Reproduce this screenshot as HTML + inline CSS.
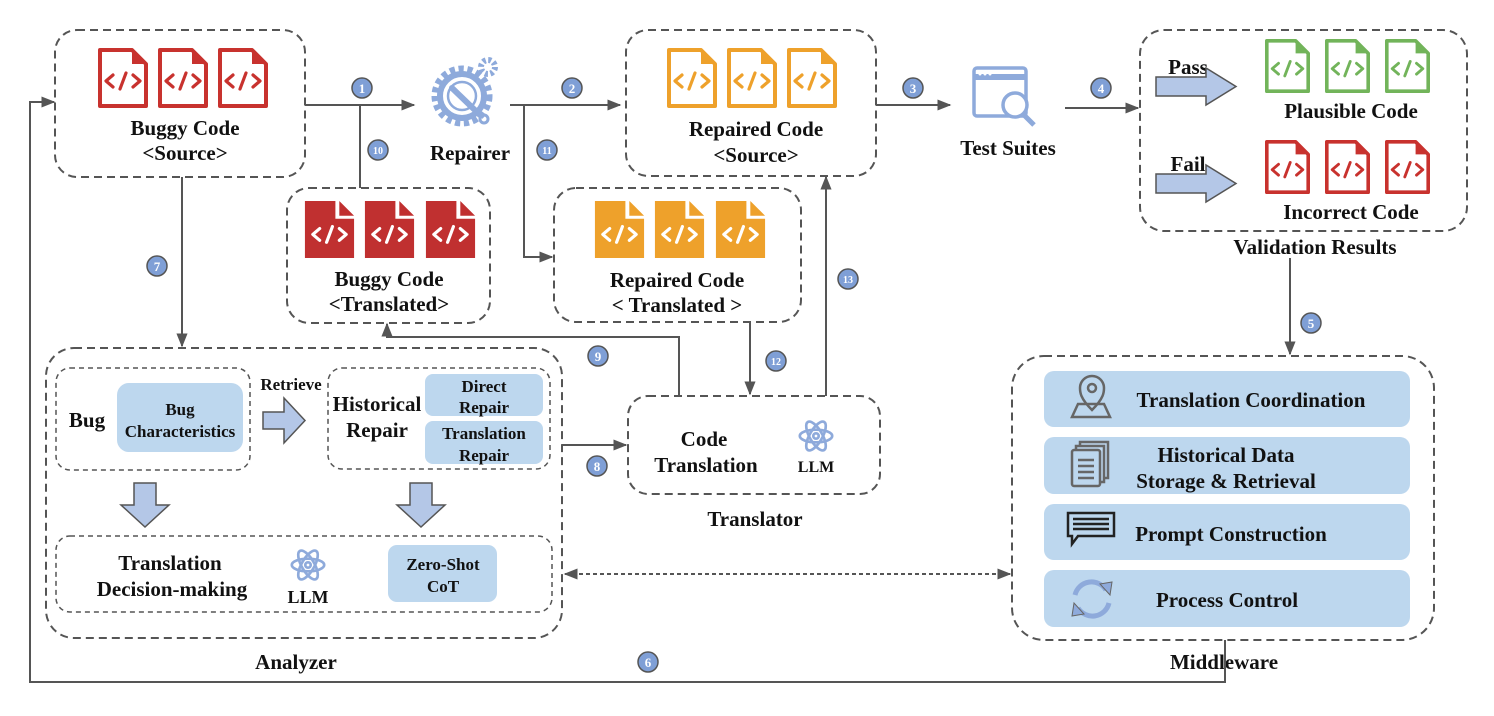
<!DOCTYPE html>
<html><head><meta charset="utf-8"><style>
html,body{margin:0;padding:0;background:#fff;}
svg{display:block;}
text{font-family:"Liberation Serif",serif;font-weight:bold;fill:#111;}
</style></head><body>
<svg width="1494" height="716" viewBox="0 0 1494 716" xmlns="http://www.w3.org/2000/svg">
<defs>
<marker id="ah" viewBox="0 0 10 10" refX="9" refY="5" markerWidth="7" markerHeight="7" orient="auto-start-reverse"><path d="M0,1 L10,5 L0,9 Z" fill="#555"/></marker>
<symbol id="fo" viewBox="0 0 50 60"><path d="M2,2 H34 L48,16 V58 H2 Z" fill="#fff" stroke="currentColor" stroke-width="4" stroke-linejoin="round"/><path d="M34,2 V16 H48 Z" fill="currentColor"/><g fill="none" stroke="currentColor" stroke-width="3.2" stroke-linecap="round" stroke-linejoin="round"><path d="M15,27 L8,33 L15,39"/><path d="M22,41 L28,25"/><path d="M35,27 L42,33 L35,39"/></g></symbol>
<symbol id="ff" viewBox="0 0 50 58"><path d="M0,0 H31 V18 H50 V58 H0 Z" fill="currentColor"/><path d="M35,0 L50,15 H35 Z" fill="currentColor"/><g fill="none" stroke="#fff" stroke-width="3.2" stroke-linecap="round" stroke-linejoin="round"><path d="M15,28 L8,34 L15,40"/><path d="M22,42 L28,26"/><path d="M35,28 L42,34 L35,40"/></g></symbol>
<symbol id="atom" viewBox="0 0 40 40"><g fill="none" stroke="#8eaadb" stroke-width="3"><ellipse cx="20" cy="20" rx="18" ry="7"/><ellipse cx="20" cy="20" rx="18" ry="7" transform="rotate(60 20 20)"/><ellipse cx="20" cy="20" rx="18" ry="7" transform="rotate(-60 20 20)"/><circle cx="20" cy="20" r="3"/></g></symbol>
</defs>

<g fill="none" stroke="#555" stroke-width="2" stroke-dasharray="8 5">
<rect x="55" y="30" width="250" height="147" rx="22"/>
<rect x="287" y="188" width="203" height="135" rx="22"/>
<rect x="626" y="30" width="250" height="146" rx="22"/>
<rect x="554" y="188" width="247" height="134" rx="22"/>
<rect x="1140" y="30" width="327" height="201" rx="24"/>
<rect x="46" y="348" width="516" height="290" rx="28"/>
<rect x="628" y="396" width="252" height="98" rx="20"/>
<rect x="1012" y="356" width="422" height="284" rx="32"/>
</g>
<g fill="none" stroke="#555" stroke-width="1.5" stroke-dasharray="5 4">
<rect x="56" y="368" width="194" height="102" rx="14"/>
<rect x="328" y="368" width="222" height="101" rx="14"/>
<rect x="56" y="536" width="496" height="76" rx="14"/>
</g>

<!-- files -->
<g color="#c8322e"><use href="#fo" x="98" y="48" width="50" height="60"/><use href="#fo" x="158" y="48" width="50" height="60"/><use href="#fo" x="218" y="48" width="50" height="60"/></g>
<g color="#c03030"><use href="#ff" x="304" y="201" width="51" height="57"/><use href="#ff" x="364" y="201" width="51" height="57"/><use href="#ff" x="425" y="201" width="51" height="57"/></g>
<g color="#eea12b"><use href="#fo" x="667" y="48" width="50" height="60"/><use href="#fo" x="727" y="48" width="50" height="60"/><use href="#fo" x="787" y="48" width="50" height="60"/></g>
<g color="#eea12b"><use href="#ff" x="594" y="201" width="51" height="57"/><use href="#ff" x="654" y="201" width="51" height="57"/><use href="#ff" x="715" y="201" width="51" height="57"/></g>
<g color="#72b45a"><use href="#fo" x="1265" y="36" width="45" height="60"/><use href="#fo" x="1325" y="36" width="45" height="60"/><use href="#fo" x="1385" y="36" width="45" height="60"/></g>
<g color="#c8322e"><use href="#fo" x="1265" y="137" width="45" height="60"/><use href="#fo" x="1325" y="137" width="45" height="60"/><use href="#fo" x="1385" y="137" width="45" height="60"/></g>

<g font-size="21" text-anchor="middle">
<text x="185" y="135">Buggy Code</text><text x="185" y="160">&lt;Source&gt;</text>
<text x="389" y="286">Buggy Code</text><text x="389" y="311">&lt;Translated&gt;</text>
<text x="756" y="136">Repaired Code</text><text x="756" y="162">&lt;Source&gt;</text>
<text x="677" y="287">Repaired Code</text><text x="677" y="312">&lt; Translated &gt;</text>
<text x="1351" y="118">Plausible Code</text><text x="1351" y="219">Incorrect Code</text>
<text x="1315" y="254">Validation Results</text>
<text x="470" y="160">Repairer</text><text x="1008" y="155">Test Suites</text>
<text x="1188" y="74">Pass</text><text x="1188" y="171">Fail</text>
<text x="87" y="427">Bug</text>
<text x="377" y="411">Historical</text><text x="377" y="437">Repair</text>
<text x="170" y="570">Translation</text><text x="172" y="596">Decision-making</text>
<text x="704" y="446">Code</text><text x="706" y="472">Translation</text>
<text x="755" y="526">Translator</text><text x="296" y="669">Analyzer</text><text x="1224" y="669">Middleware</text>
</g>

<!-- repairer icon -->
<g fill="none" stroke="#8eaadb">
<circle cx="462" cy="96" r="26" stroke-width="9" stroke-dasharray="5 3.5"/>
<circle cx="462" cy="96" r="22" stroke-width="6"/>
<circle cx="462" cy="96" r="14" stroke-width="2.5"/>
<path d="M452,88 L480,115" stroke-width="6" stroke-linecap="round"/>
<circle cx="484" cy="119" r="4" stroke-width="3"/>
<circle cx="488" cy="67" r="7" stroke-width="6" stroke-dasharray="3 2.5"/>
</g>
<!-- test suites icon -->
<g fill="none" stroke="#8eaadb" stroke-width="3.5">
<rect x="974" y="68" width="52" height="48" rx="3"/>
<line x1="974" y1="77" x2="1026" y2="77" stroke-width="6"/>
<circle cx="1015" cy="105" r="12" fill="#fff"/><line x1="1023" y1="114" x2="1034" y2="125" stroke-width="5"/>
</g>
<g fill="#fff"><circle cx="980" cy="74" r="1.5"/><circle cx="985" cy="74" r="1.5"/><circle cx="990" cy="74" r="1.5"/></g>

<!-- block arrows -->
<g fill="#b4c7e7" stroke="#555" stroke-width="1.5" stroke-linejoin="miter">
<path d="M1156,77 H1206 V68 L1236,86.5 L1206,105 V96 H1156 Z"/>
<path d="M1156,174 H1206 V165 L1236,183.5 L1206,202 V193 H1156 Z"/>
<path d="M263,412 H284 V398 L305,420.5 L284,443 V429 H263 Z"/>
<path d="M134,483 H156 V505 H169 L145,527 L121,505 H134 Z"/>
<path d="M410,483 H432 V505 H445 L421,527 L397,505 H410 Z"/>
</g>
<text x="291" y="390" font-size="17" text-anchor="middle">Retrieve</text>

<!-- light boxes -->
<g fill="#bdd7ee">
<rect x="117" y="383" width="126" height="69" rx="12"/>
<rect x="425" y="374" width="118" height="42" rx="8"/>
<rect x="425" y="421" width="118" height="43" rx="8"/>
<rect x="388" y="545" width="109" height="57" rx="9"/>
<rect x="1044" y="371" width="366" height="56" rx="10"/>
<rect x="1044" y="437" width="366" height="57" rx="10"/>
<rect x="1044" y="504" width="366" height="56" rx="10"/>
<rect x="1044" y="570" width="366" height="57" rx="10"/>
</g>
<g font-size="17" text-anchor="middle">
<text x="180" y="415">Bug</text><text x="180" y="437">Characteristics</text>
<text x="484" y="392">Direct</text><text x="484" y="413">Repair</text>
<text x="484" y="439">Translation</text><text x="484" y="461">Repair</text>
<text x="443" y="570">Zero-Shot</text><text x="443" y="592">CoT</text>
<text x="308" y="603" font-size="18">LLM</text><text x="816" y="472" font-size="16">LLM</text>
</g>
<g font-size="21" text-anchor="middle">
<text x="1251" y="407">Translation Coordination</text>
<text x="1226" y="462">Historical Data</text><text x="1226" y="488">Storage &amp; Retrieval</text>
<text x="1231" y="541">Prompt Construction</text>
<text x="1227" y="607">Process Control</text>
</g>
<use href="#atom" x="290" y="547" width="36" height="36"/>
<use href="#atom" x="798" y="418" width="36" height="36"/>

<!-- middleware icons -->
<g fill="none" stroke="#666" stroke-width="2.5">
<path d="M1092,417 L1072,417 L1078,404 L1104,404 L1110,417 Z"/>
<path d="M1092,410 C1080,398 1080,392 1080,388 A12,12 0 0 1 1104,388 C1104,392 1104,398 1092,410 Z"/>
<circle cx="1092" cy="388" r="4"/>
<rect x="1072" y="450" width="28" height="36" rx="2" fill="#bdd7ee"/>
<path d="M1076,450 V446 H1104 V482 H1100 M1080,446 V442 H1108 V478 H1104"/>
<path d="M1078,460 H1094 M1078,466 H1094 M1078,472 H1094 M1078,478 H1094"/>
</g>
<path d="M1068,513 H1114 V536 H1078 L1072,544 V536 H1068 Z" fill="none" stroke="#222" stroke-width="2.5"/>
<path d="M1073,519 H1109 M1073,524 H1109 M1073,529 H1109" stroke="#222" stroke-width="2.5"/>
<g fill="none" stroke="#8eaadb" stroke-width="5">
<path d="M1075,595 A17,17 0 0 1 1106,590"/><path d="M1109,603 A17,17 0 0 1 1078,608"/>
</g>
<path d="M1100,584 L1112,582 L1110,595 Z M1084,614 L1072,616 L1074,603 Z" fill="#8eaadb" stroke="#666" stroke-width="1"/>

<!-- connectors -->
<g fill="none" stroke="#555" stroke-width="2">
<path d="M305,105 H414" marker-end="url(#ah)"/>
<path d="M360,105 V188"/>
<path d="M510,105 H620" marker-end="url(#ah)"/>
<path d="M524,105 V257 H552" marker-end="url(#ah)"/>
<path d="M876,105 H950" marker-end="url(#ah)"/>
<path d="M1065,108 H1138" marker-end="url(#ah)"/>
<path d="M1290,258 V354" marker-end="url(#ah)"/>
<path d="M1225,640 V682 H30 V102 H54" marker-end="url(#ah)"/>
<path d="M182,177 V346" marker-end="url(#ah)"/>
<path d="M562,445 H626" marker-end="url(#ah)"/>
<path d="M679,396 V337 H387 V324" marker-end="url(#ah)"/>
<path d="M750,322 V394" marker-end="url(#ah)"/>
<path d="M826,396 V177" marker-end="url(#ah)"/>
<path d="M565,574 H1010" stroke-dasharray="4 3" marker-start="url(#ah)" marker-end="url(#ah)"/>
</g>

<!-- number badges -->
<g font-family="Liberation Sans,sans-serif">
<g fill="#7f9fd6" stroke="#555" stroke-width="1.5">
<circle cx="362" cy="88" r="10"/><circle cx="572" cy="88" r="10"/><circle cx="913" cy="88" r="10"/><circle cx="1101" cy="88" r="10"/>
<circle cx="1311" cy="323" r="10"/><circle cx="648" cy="662" r="10"/><circle cx="157" cy="266" r="10"/><circle cx="597" cy="466" r="10"/>
<circle cx="598" cy="356" r="10"/><circle cx="378" cy="150" r="10"/><circle cx="547" cy="150" r="10"/><circle cx="776" cy="361" r="10"/><circle cx="848" cy="279" r="10"/>
</g>
<g font-size="13" text-anchor="middle">
<text x="362" y="93" style="fill:#fff">1</text><text x="572" y="93" style="fill:#fff">2</text><text x="913" y="93" style="fill:#fff">3</text><text x="1101" y="93" style="fill:#fff">4</text>
<text x="1311" y="328" style="fill:#fff">5</text><text x="648" y="667" style="fill:#fff">6</text><text x="157" y="271" style="fill:#fff">7</text><text x="597" y="471" style="fill:#fff">8</text>
<text x="598" y="361" style="fill:#fff">9</text>
<text x="378" y="154" font-size="10" style="fill:#fff">10</text><text x="547" y="154" font-size="10" style="fill:#fff">11</text><text x="776" y="365" font-size="10" style="fill:#fff">12</text><text x="848" y="283" font-size="10" style="fill:#fff">13</text>
</g>
</g>
</svg>
</body></html>
